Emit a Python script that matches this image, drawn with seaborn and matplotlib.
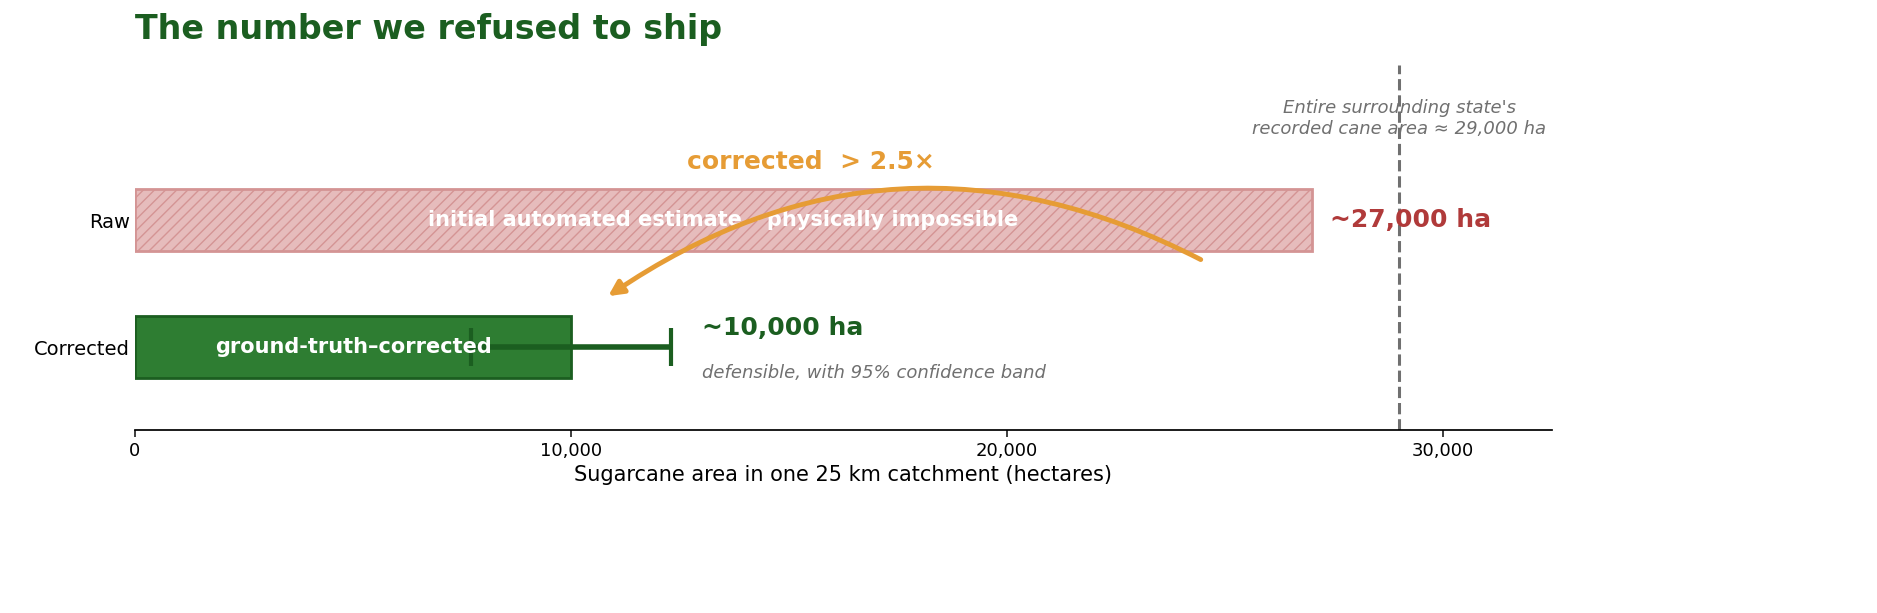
import matplotlib
matplotlib.use("Agg")
import matplotlib.pyplot as plt
import seaborn as sns
import pandas as pd

categories = ["Raw", "Corrected"]
values = [27000, 10000]
ci_low, ci_high = 7700, 12300
state_total = 29000
bar_texts = ["initial automated estimate – physically impossible", "ground-truth–corrected"]
value_labels = ["~27,000 ha", "~10,000 ha"]

sns.set_theme(style="white")
plt.rcParams['font.family'] = ['DejaVu Sans']
fig = plt.figure(figsize=(18.77, 6.13), dpi=100)
ax = fig.add_axes([135/1877, 1-430/613, (1552-135)/1877, 365/613])

df = pd.DataFrame({"cat": categories, "val": values})
sns.barplot(data=df, x="val", y="cat", orient="h", ax=ax, width=0.49, saturation=1,
            palette=["#e6bcbc", "#2e7d32"], hue="cat", legend=False)
p0, p1 = ax.patches[0], ax.patches[1]
p0.set_hatch("///"); p0.set_edgecolor("#d49494"); p0.set_linewidth(2)
p1.set_edgecolor("#1b5e20"); p1.set_linewidth(2)

ax.errorbar([values[1]], [1], xerr=[[values[1]-ci_low], [ci_high-values[1]]],
            fmt="none", ecolor="#1b5e20", elinewidth=4, capsize=14, capthick=3)

ax.set_xlim(0, 32500)
ax.set_ylim(1.65, -1.22)
ax.axvline(state_total, color="#707070", ls="--", lw=2.2)
ax.text(state_total, -0.8, "Entire surrounding state's\nrecorded cane area ≈ 29,000 ha",
        ha="center", va="center", fontsize=13, style="italic", color="#707070")

ax.text(values[0]/2, 0, bar_texts[0], ha="center", va="center", color="white",
        fontsize=15, fontweight="bold")
ax.text(values[1]/2, 1, bar_texts[1], ha="center", va="center", color="white",
        fontsize=15, fontweight="bold")
ax.text(values[0]+400, 0, value_labels[0], va="center", color="#b03a3a",
        fontsize=18, fontweight="bold")
ax.text(13000, 0.85, value_labels[1], va="center", color="#1b5e20",
        fontsize=18, fontweight="bold")
ax.text(13000, 1.2, "defensible, with 95% confidence band", va="center",
        color="#707070", fontsize=13, style="italic")

ax.annotate("", xy=(10800, 0.61), xytext=(24500, 0.32),
            arrowprops=dict(arrowstyle="-|>", color="#e69c35", lw=3.5,
                            connectionstyle="arc3,rad=0.3", mutation_scale=22))
ax.text(15500, -0.46, "corrected  > 2.5×", ha="center", va="center",
        color="#e69c35", fontsize=18, fontweight="bold")

ax.set_xticks([0, 10000, 20000, 30000])
ax.set_xticklabels(["0", "10,000", "20,000", "30,000"], fontsize=13, color="black")
ax.tick_params(axis="x", bottom=True, length=5)
ax.tick_params(axis="y", labelsize=14, length=0, labelcolor="black")
ax.set_ylabel("")
ax.set_xlabel("Sugarcane area in one 25 km catchment (hectares)", fontsize=15, color="black")
for s in ["top", "right", "left"]:
    ax.spines[s].set_visible(False)
ax.spines["bottom"].set_color("black")
fig.text(135/1877, 1-30/613, "The number we refused to ship", fontsize=24,
         fontweight="bold", color="#1b5e20", va="center")
fig.savefig("out.png", dpi=100, facecolor="white")
